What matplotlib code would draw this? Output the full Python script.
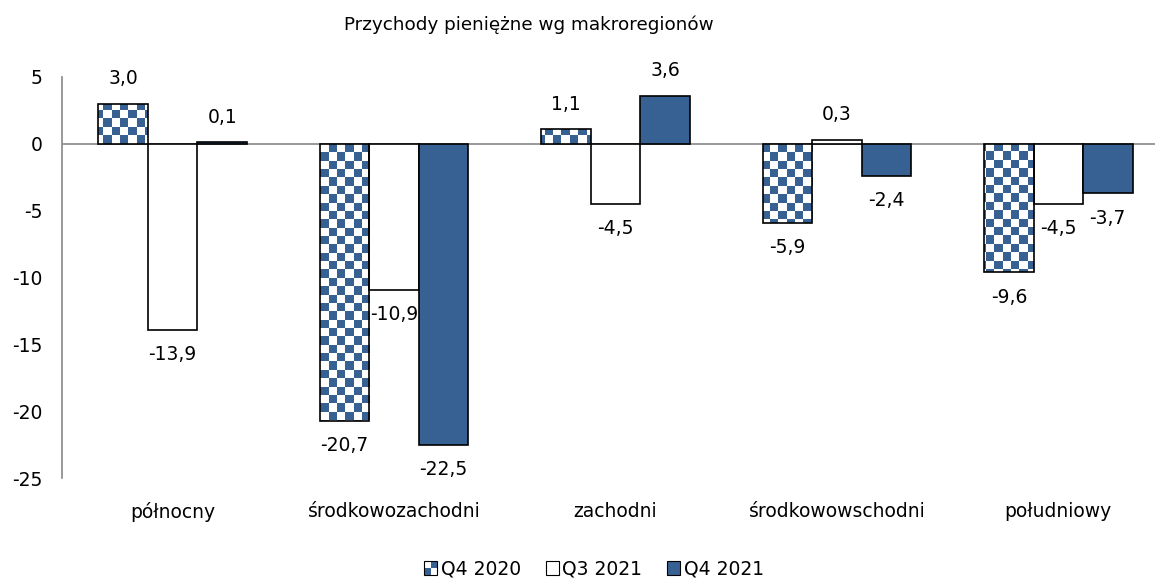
import numpy as np
import matplotlib
matplotlib.use('Agg')
import matplotlib.pyplot as plt
from matplotlib.patches import Rectangle
from matplotlib.legend_handler import HandlerBase

plt.rcParams['font.family'] = ['DejaVu Sans']

# dane
regiony = ['północny', 'środkowozachodni', 'zachodni', 'środkowowschodni', 'południowy']
serie = ['Q4 2020', 'Q3 2021', 'Q4 2021']
q4_2020 = [3.0, -20.7, 1.1, -5.9, -9.6]
q3_2021 = [-13.9, -10.9, -4.5, 0.3, -4.5]
q4_2021 = [0.1, -22.5, 3.6, -2.4, -3.7]
y_ticks = [5, 0, -5, -10, -15, -20, -25]

niebieski = '#386193'
fs = 13.5


def fmt(v):
    return f'{v:.1f}'.replace('.', ',')


class CheckerHandler(HandlerBase):
    # mala szachownica 2x2 w legendzie
    def create_artists(self, legend, orig_handle, xdescent, ydescent,
                       width, height, fontsize, trans):
        s = min(width, height)
        x0, y0 = -xdescent, -ydescent
        arts = []
        for i in range(2):
            for j in range(2):
                c = niebieski if (i + j) % 2 == 0 else 'white'
                arts.append(Rectangle((x0 + i * s / 2, y0 + j * s / 2), s / 2, s / 2,
                                      facecolor=c, edgecolor='none', transform=trans))
        arts.append(Rectangle((x0, y0), s, s, facecolor='none', edgecolor='black',
                              lw=0.8, transform=trans))
        return arts


fig = plt.figure(figsize=(11.55, 5.79), dpi=100)
ax = fig.add_axes([62 / 1155, 101 / 579, 1107 / 1155, 401 / 579])

x = np.arange(len(regiony))
w = 0.2235

b1 = ax.bar(x - w, q4_2020, w, facecolor='white', edgecolor='none', zorder=2)
b2 = ax.bar(x, q3_2021, w, facecolor='white', edgecolor='black', lw=1.2, zorder=3)
b3 = ax.bar(x + w, q4_2021, w, facecolor=niebieski, edgecolor='black', lw=1.2, zorder=3)
ax.bar(x - w, q4_2020, w, facecolor='none', edgecolor='black', lw=1.2, zorder=4)

# szachownica przycieta do slupkow Q4 2020
nx, ny = 133, 48
szach = (np.add.outer(np.arange(ny), np.arange(nx)) % 2).astype(float)
cmap = matplotlib.colors.ListedColormap([niebieski, 'white'])
for bar in b1:
    im = ax.imshow(szach, cmap=cmap, extent=(0, 1, 0, 1), transform=ax.transAxes,
                   aspect='auto', interpolation='nearest', zorder=2.5)
    im.set_clip_path(bar)

ax.set_xlim(-0.5, 4.5)
ax.set_ylim(-25, 5)

ax.axhline(0, color='#888888', lw=1.2, zorder=1)

# etykiety danych
for bars, vals in [(b1, q4_2020), (b2, q3_2021), (b3, q4_2021)]:
    for bar, v in zip(bars, vals):
        cx = bar.get_x() + bar.get_width() / 2
        off = 18 if v >= 0 else -18
        ax.annotate(fmt(v), (cx, v), xytext=(0, off), textcoords='offset points',
                    ha='center', va='center', fontsize=fs)

ax.set_xticks(x)
ax.set_xticklabels(regiony, fontsize=fs)
ax.set_yticks(y_ticks)
ax.set_yticklabels([str(t) for t in y_ticks], fontsize=fs)
ax.tick_params(axis='x', length=0, pad=17)
ax.tick_params(axis='y', length=0, pad=14)

for s in ['top', 'right', 'bottom']:
    ax.spines[s].set_visible(False)
ax.spines['left'].set_color('#888888')
ax.spines['left'].set_linewidth(1.2)

fig.text(529 / 1155, 1 - 25 / 579, 'Przychody pieniężne wg makroregionów',
         ha='center', va='center', fontsize=13.2)

h1 = Rectangle((0, 0), 1, 1)
h2 = Rectangle((0, 0), 1, 1, facecolor='white', edgecolor='black', lw=0.8)
h3 = Rectangle((0, 0), 1, 1, facecolor=niebieski, edgecolor='black', lw=0.8)
fig.legend([h1, h2, h3], serie, loc='center', bbox_to_anchor=(594 / 1155, 1 - 569 / 579),
           ncol=3, frameon=False, fontsize=fs, handlelength=0.7, handleheight=0.7,
           handletextpad=0.2, columnspacing=1.3,
           handler_map={h1: CheckerHandler()})

fig.savefig('out.png', dpi=100)
